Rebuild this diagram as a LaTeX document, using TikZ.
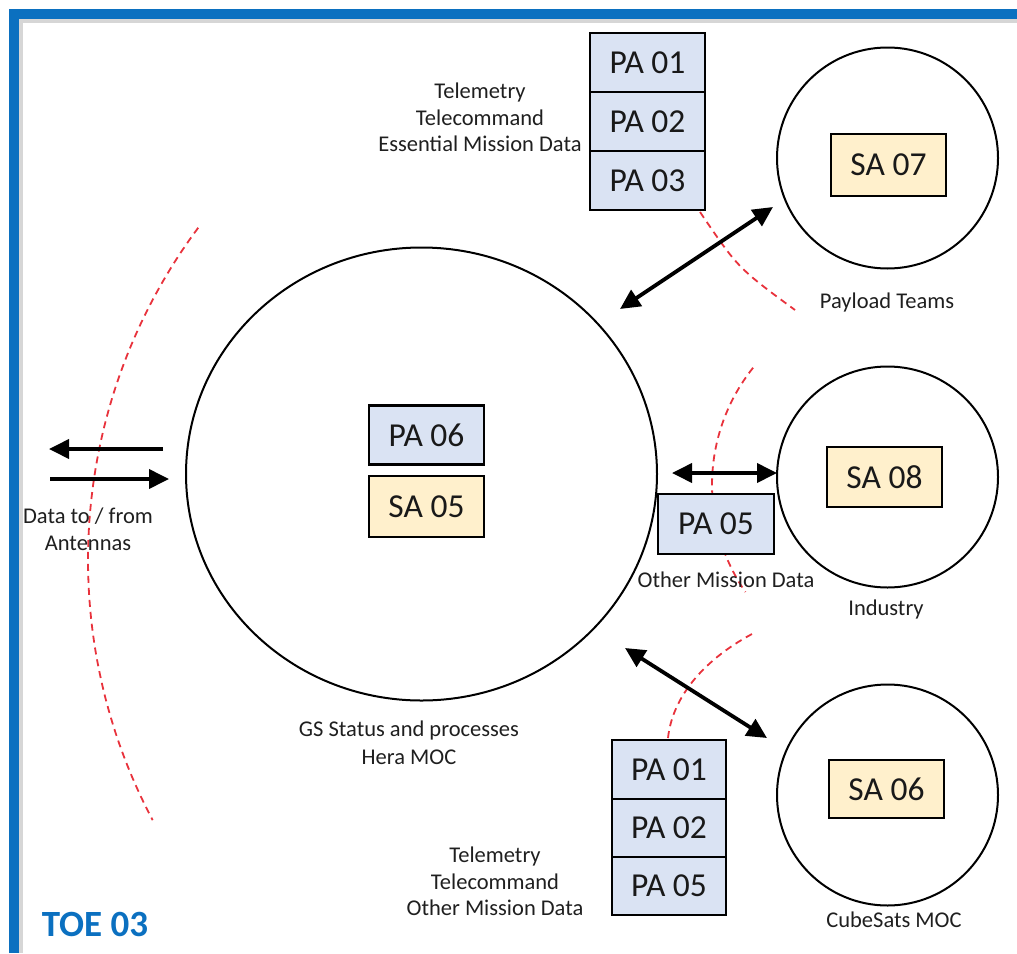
\documentclass[tikz,border=0pt]{standalone}
\usepackage{fontspec}
\setmainfont{Carlito}
\usetikzlibrary{arrows.meta,shapes.geometric}
\definecolor{frameblue}{RGB}{11,112,192}
\definecolor{pablue}{RGB}{218,227,243}
\definecolor{sayellow}{RGB}{255,240,204}
\definecolor{dashred}{RGB}{232,50,60}
\begin{document}
\begin{tikzpicture}[x=1pt,y=-1pt,
  every node/.style={inner sep=0pt, outer sep=0pt},
  box/.style={draw=black, line width=2.4pt, minimum width=115pt, minimum height=59pt,
    font=\fontsize{33.5}{33.5}\selectfont, text=black!90},
  pabox/.style={box, fill=pablue},
  sabox/.style={box, fill=sayellow},
  zone/.style={draw=black, line width=2pt, circle, minimum size=221pt},
  lbl/.style={font=\fontsize{22.5}{26.5}\selectfont, align=center, text=black!88},
  flow/.style={line width=3.8pt, {Triangle[length=20pt,width=19pt]}-{Triangle[length=20pt,width=19pt]}},
  oneway/.style={line width=3.8pt, -{Triangle[length=20pt,width=19pt]}},
  boundary/.style={draw=dashred, line width=1.8pt, dash pattern=on 7pt off 5pt},
]
\useasboundingbox (0,0) rectangle (1017,953);

% page frame with its soft inner shadow
\draw[black!16, line width=4pt] (21,953) -- (21,21) -- (1017,21);
\draw[frameblue, line width=9.5pt] (14,953) -- (14,14) -- (1017,14);

% dashed red interface boundaries
\draw[boundary] plot[domain=216.7:152.1, samples=80, variable=\t]
  ({644+556*cos(\t)},{560+556*sin(\t)});
\draw[boundary] plot[domain=218.6:145.3, samples=60, variable=\t]
  ({900+188*cos(\t)},{485+188*sin(\t)});
\draw[boundary] (700,212) .. controls (738,268) .. (795,310);
\draw[boundary] (668,738) .. controls (672,700) and (700,662) .. (752,634);

% centres
\node[draw=black, line width=2pt, ellipse, minimum width=471pt, minimum height=453pt] (moc) at (421.5,474) {};
\node[zone] (payload) at (887.5,158) {};
\node[zone] (industry) at (887.5,477) {};
\node[zone] (cubesat) at (887.5,795) {};

% products and assets
\node[pabox] (pa06) at (426.5,435) {PA 06};
\node[sabox, minimum height=61pt] (sa05) at (426.5,506.5) {SA 05};
\node[sabox, minimum height=62pt] (sa07) at (888.5,165) {SA 07};
\node[sabox, minimum height=60pt] (sa08) at (884.5,477) {SA 08};
\node[sabox, minimum height=58pt] (sa06) at (886.5,789) {SA 06};
\node[pabox, minimum width=116pt, minimum height=60pt] (pa05) at (716,524) {PA 05};

\node[pabox] (tpa01) at (647.5,62.5) {PA 01};
\node[pabox] (tpa02) at (647.5,121.5) {PA 02};
\node[pabox] (tpa03) at (647.5,180.5) {PA 03};

\node[pabox, minimum width=114pt, minimum height=58.5pt] (bpa01) at (669,769.5) {PA 01};
\node[pabox, minimum width=114pt, minimum height=58.5pt] (bpa02) at (669,828) {PA 02};
\node[pabox, minimum width=114pt, minimum height=58.5pt] (bpa05) at (669,886) {PA 05};

% labels
\node[lbl] (ltop) at (480,117.5) {Telemetry\\Telecommand\\Essential Mission Data};
\node[lbl] (lbot) at (495,881.5) {Telemetry\\Telecommand\\Other Mission Data};
\node[lbl] (lant) at (88,529.5) {Data to / from\\Antennas};
\node[lbl, font=\fontsize{22.5}{28}\selectfont] (lmoc) at (409,743) {GS Status and processes\\Hera MOC};
\node[lbl] (lpay) at (887,302) {Payload Teams};
\node[lbl] (lind) at (886,609) {Industry};
\node[lbl] (lcube) at (894,920) {CubeSats MOC};
\node[lbl] (lother) at (726,580) {Other Mission Data};
\node[font=\bfseries\fontsize{37}{37}\selectfont, text=frameblue] (toe) at (95,924) {TOE 03};

% arrow end points
\coordinate (a1) at (620,309);
\coordinate (a2) at (773,207);
\coordinate (b1) at (672,473);
\coordinate (b2) at (777,473);
\coordinate (c1) at (625,648);
\coordinate (c2) at (767,738);
\coordinate (outfrom) at (163,449);
\coordinate (outto) at (49,449);
\coordinate (infrom) at (50,479);
\coordinate (into) at (169,479);

% data flows
\draw[flow] (a1) -- (a2);
\draw[flow] (b1) -- (b2);
\draw[flow] (c1) -- (c2);
\draw[oneway] (outfrom) -- (outto);
\draw[oneway] (infrom) -- (into);
\end{tikzpicture}
\end{document}
